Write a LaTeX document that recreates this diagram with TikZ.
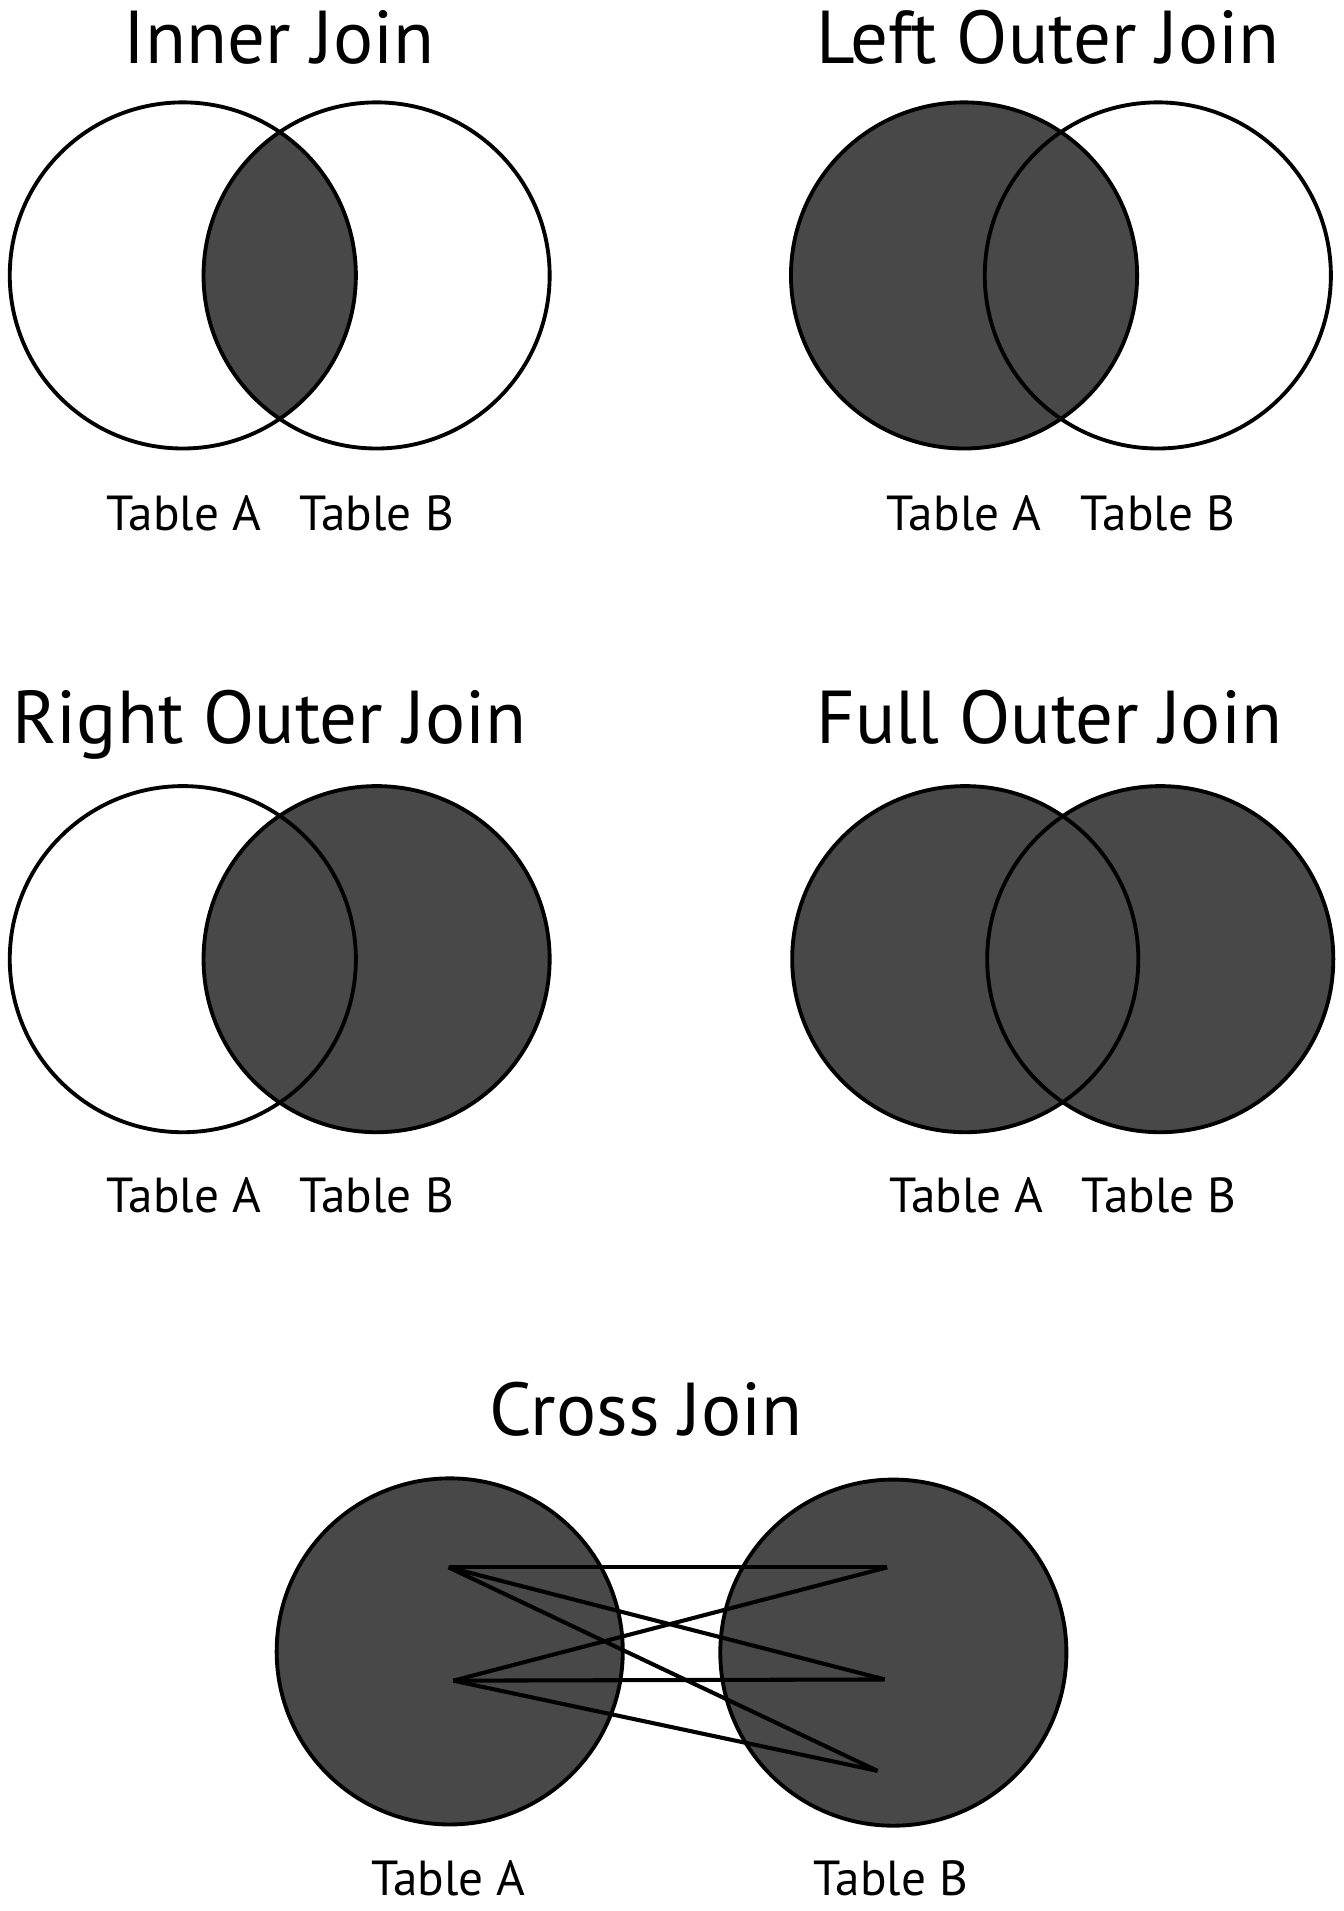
\documentclass[tikz,border=0pt]{standalone}
\usepackage{fontspec}
\setmainfont{PT Sans}
\definecolor{joinfill}{RGB}{72,72,72}

\begin{document}
\begin{tikzpicture}[x=0.02cm,y=-0.02cm,
  ring/.style={draw=black,line width=1.8pt},
  link/.style={draw=black,line width=1.9pt,line join=miter},
  jointitle/.style={font=\fontsize{35}{40}\selectfont,anchor=base,inner sep=0pt},
  tablelabel/.style={font=\fontsize{23}{28}\selectfont,anchor=base,inner sep=0pt}]
  \useasboundingbox (0,0) rectangle (1102,1568);
  % Inner Join: only the overlap is filled
  \begin{scope}
    \coordinate (ia) at (150,226);
    \coordinate (ib) at (309,226);
    \begin{scope}
      \clip (ia) circle (142);
      \fill[joinfill] (ib) circle (142);
    \end{scope}
    \draw[ring] (ia) circle (142);
    \draw[ring] (ib) circle (142);
    \node[jointitle] (innertitle) at (229,52) {Inner Join};
    \node[tablelabel] (innera) at (151,435) {Table A};
    \node[tablelabel] (innerb) at (309,435) {Table B};
  \end{scope}
  % Left Outer Join: all of A
  \begin{scope}
    \coordinate (la) at (791,226);
    \coordinate (lb) at (950,226);
    \fill[joinfill] (la) circle (142);
    \draw[ring] (la) circle (142);
    \draw[ring] (lb) circle (142);
    \node[jointitle] (lefttitle) at (860,52) {Left Outer Join};
    \node[tablelabel] (lefta) at (791,435) {Table A};
    \node[tablelabel] (leftb) at (950,435) {Table B};
  \end{scope}
  % Right Outer Join: all of B
  \begin{scope}
    \coordinate (ra) at (150,787);
    \coordinate (rb) at (309,787);
    \fill[joinfill] (rb) circle (142);
    \draw[ring] (ra) circle (142);
    \draw[ring] (rb) circle (142);
    \node[jointitle] (righttitle) at (221,610) {Right Outer Join};
    \node[tablelabel] (righta) at (151,995) {Table A};
    \node[tablelabel] (rightb) at (309,995) {Table B};
  \end{scope}
  % Full Outer Join: both tables
  \begin{scope}
    \coordinate (fa) at (792,787);
    \coordinate (fb) at (952,787);
    \fill[joinfill] (fa) circle (142) (fb) circle (142);
    \draw[ring] (fa) circle (142);
    \draw[ring] (fb) circle (142);
    \node[jointitle] (fulltitle) at (861,610) {Full Outer Join};
    \node[tablelabel] (fulla) at (793,995) {Table A};
    \node[tablelabel] (fullb) at (951,995) {Table B};
  \end{scope}
  % Cross Join: every row of A with every row of B
  \begin{scope}
    \coordinate (ca) at (369,1355);
    \coordinate (cb) at (733,1356);
    \fill[joinfill] (ca) circle (142) (cb) circle (142);
    \draw[ring] (ca) circle (142);
    \draw[ring] (cb) circle (142);
    \coordinate (a1) at (368,1286);
    \coordinate (a2) at (372,1379);
    \coordinate (b1) at (728,1286);
    \coordinate (b2) at (726,1378);
    \coordinate (b3) at (720,1453);
    \foreach \a in {a1,a2}{
      \foreach \b in {b1,b2,b3}{\draw[link] (\a) -- (\b);}
    }
    \node[jointitle] (crosstitle) at (530,1178) {Cross Join};
    \node[tablelabel] (crossa) at (368,1555) {Table A};
    \node[tablelabel] (crossb) at (731,1555) {Table B};
  \end{scope}
\end{tikzpicture}
\end{document}
